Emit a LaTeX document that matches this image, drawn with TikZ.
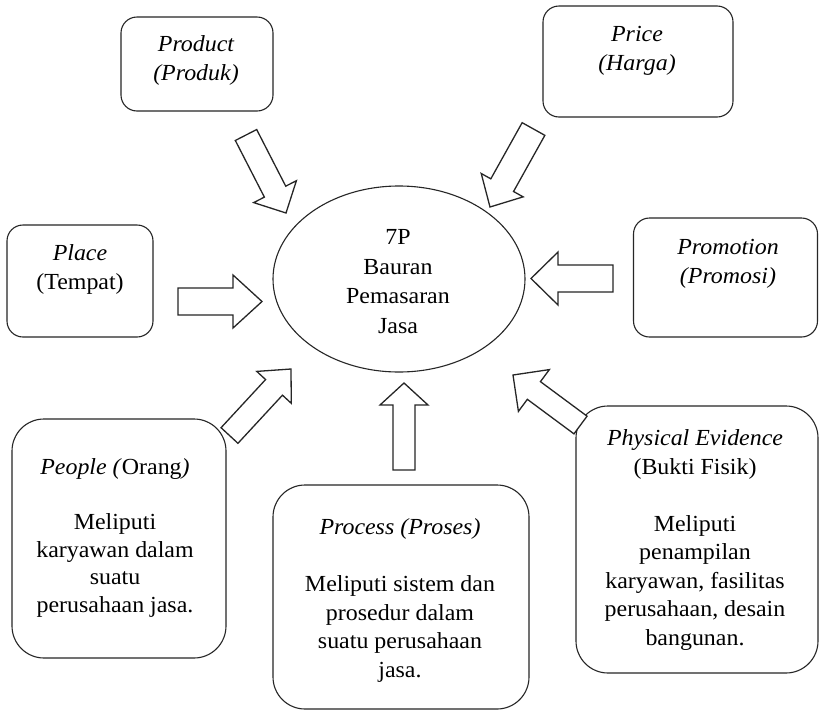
\documentclass[tikz,border=0pt]{standalone}
\usepackage{fontspec}
\setmainfont{Liberation Serif}[FakeStretch=1.04]
\usetikzlibrary{calc,shapes.geometric}
\newcommand{\blockarr}[5]{% tail, tip, shaft half width, head half width, head length
  \coordinate (#1h) at ($(#2)!#5!(#1)$);
  \draw[barrow] ($(#1)!#3!90:(#2)$) -- ($(#1h)!#3!90:(#2)$) -- ($(#1h)!#4!90:(#2)$) -- (#2)
    -- ($(#1h)!#4!-90:(#2)$) -- ($(#1h)!#3!-90:(#2)$) -- ($(#1)!#3!-90:(#2)$) -- cycle;
}
\tikzset{
  box/.style={draw=black!85, line width=1.1pt, rounded corners=16pt, inner sep=0pt, outer sep=0pt},
  bigbox/.style={box, rounded corners=32pt},
  lbl/.style={anchor=base, align=center, inner sep=0pt, font=\fontsize{23}{28.5}\selectfont},
  barrow/.style={draw=black!85, line width=1.3pt, line join=miter, fill=white},
}
\begin{document}
\begin{tikzpicture}[x=1pt,y=-1pt]
\useasboundingbox (0,0) rectangle (819,710);
\fill[white] (0,0) rectangle (819,710);
% boxes
\node[box, minimum width=152pt, minimum height=94pt] (product) at (197,64) {};
\node[box, minimum width=190pt, minimum height=111pt] (price) at (638,61.5) {};
\node[box, minimum width=146pt, minimum height=112pt] (place) at (80,281) {};
\node[box, minimum width=184pt, minimum height=119pt] (promo) at (725.5,277.5) {};
\node[bigbox, minimum width=214pt, minimum height=239pt] (people) at (119,538.5) {};
\node[bigbox, minimum width=256pt, minimum height=224pt] (process) at (401,597) {};
\node[bigbox, minimum width=242pt, minimum height=267pt] (phys) at (697,539.5) {};
\node[draw=black!85, line width=1.1pt, ellipse, minimum width=252pt, minimum height=186pt, inner sep=0pt] (core) at (399,279) {};
% texts (anchor = baseline of last line)
\node[lbl] (productT) at (196,80) {\itshape Product\\\itshape (Produk)};
\node[lbl] (priceT) at (637,70) {\itshape Price\\\itshape (Harga)};
\node[lbl] (placeT) at (80,289) {\itshape Place\\(Tempat)};
\node[lbl] (promoT) at (728,283) {\itshape Promotion\\\itshape (Promosi)};
\node[lbl, font=\fontsize{23}{29.5}\selectfont] (coreT) at (398,333) {7P\\Bauran\\Pemasaran\\Jasa};
\node[lbl, font=\fontsize{23}{27.5}\selectfont] (peopleT) at (115,612) {\textit{People (}Orang\textit{)}\\[27.5pt]Meliputi\\karyawan dalam\\suatu\\perusahaan jasa.};
\node[lbl] (processT) at (400,677) {\textit{Process (Proses)}\\[28.5pt]Meliputi sistem dan\\prosedur dalam\\suatu perusahaan\\jasa.};
\node[lbl] (physT) at (695,645) {\textit{Physical Evidence}\\(Bukti Fisik)\\[28.5pt]Meliputi\\penampilan\\karyawan, fasilitas\\perusahaan, desain\\bangunan.};
% arrows
\coordinate (a1) at (246,135); \coordinate (b1) at (286,213);
\coordinate (a2) at (533.5,129); \coordinate (b2) at (490,207);
\coordinate (a3) at (178,301.5); \coordinate (b3) at (262,301.5);
\coordinate (a4) at (613,278.5); \coordinate (b4) at (531,278.5);
\coordinate (a5) at (229.5,435.5); \coordinate (b5) at (291,369);
\coordinate (a6) at (404,470); \coordinate (b6) at (404,383);
\coordinate (a7) at (580.5,425); \coordinate (b7) at (513,375);
\blockarr{a1}{b1}{12pt}{24pt}{24pt}
\blockarr{a2}{b2}{13pt}{24pt}{25pt}
\blockarr{a3}{b3}{13.5pt}{26.5pt}{29pt}
\blockarr{a4}{b4}{13.5pt}{26.5pt}{27pt}
\blockarr{a5}{b5}{11.5pt}{23.5pt}{25pt}
\blockarr{a6}{b6}{11pt}{24pt}{22pt}
\blockarr{a7}{b7}{11pt}{26pt}{26pt}
\end{tikzpicture}
\end{document}
